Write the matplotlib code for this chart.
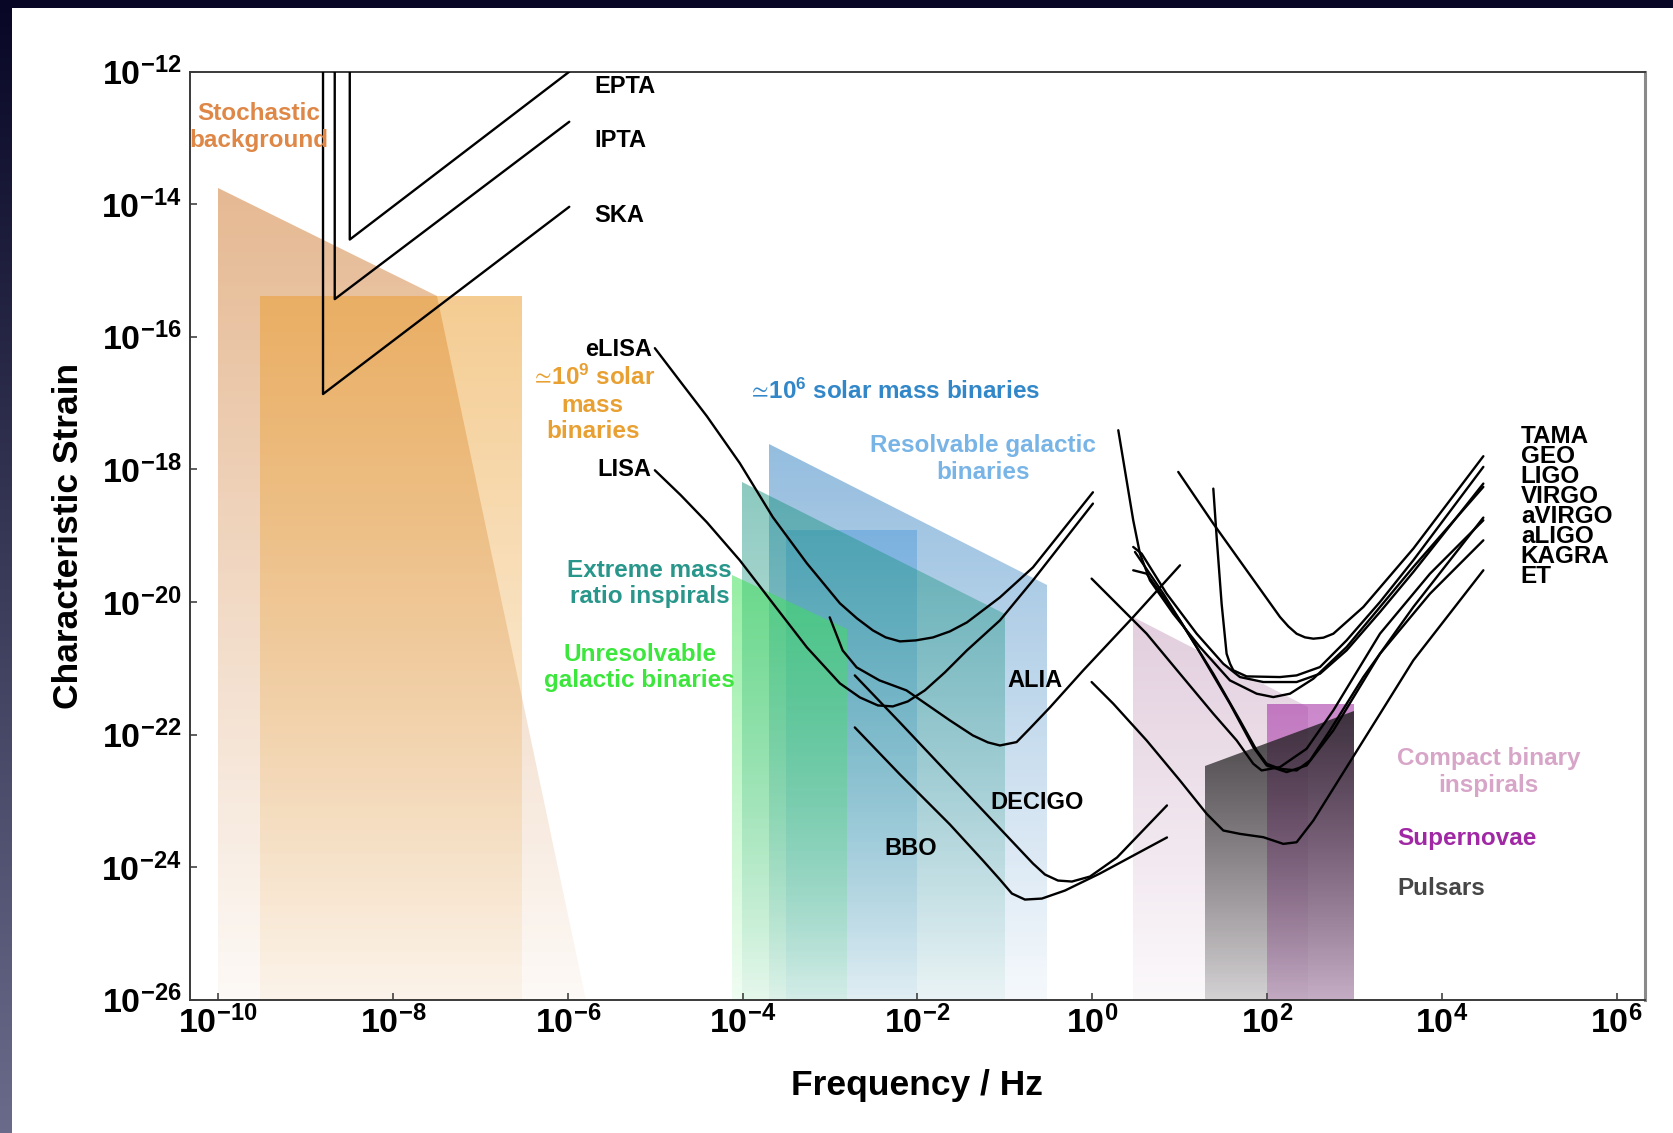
import numpy as np
import matplotlib
matplotlib.use("Agg")
import matplotlib.pyplot as plt
from matplotlib.patches import Polygon, Rectangle
from matplotlib.colors import LinearSegmentedColormap
from matplotlib.ticker import FixedLocator, FuncFormatter, NullLocator

plt.rcParams['font.family'] = ['Liberation Sans', 'DejaVu Sans']
plt.rcParams['mathtext.fontset'] = 'custom'
for key in ('rm', 'it', 'bf', 'sf'):
    plt.rcParams['mathtext.' + key] = 'Liberation Sans:bold'
plt.rcParams['mathtext.fallback'] = 'stixsans'

# ---------------------------------------------------------------------------
# Data: log10(frequency / Hz) and log10(characteristic strain)
# ---------------------------------------------------------------------------
LOGF_RANGE = (-10.32, 6.32)
LOGH_RANGE = (-26.0, -12.0)
XTICK_EXP = list(range(-10, 7, 2))
YTICK_EXP = list(range(-26, -11, 2))

# Source regions: frequencies of the top edge and the strain along it
stoch_f = [-10.0, -7.49, -5.79]
stoch_h = [-13.75, -15.39, -26.0]
smbh9_f = [-9.52, -6.52]
smbh9_h = [-15.39, -15.39]
resolv_f = [-3.70, -0.52]
resolv_h = [-17.61, -19.75]
smbh6_f = [-3.50, -2.00]
smbh6_h = [-18.92, -18.92]
emri_f = [-4.01, -1.00]
emri_h = [-18.19, -20.18]
unres_f = [-4.12, -2.81]
unres_h = [-19.60, -20.41]
cbc_f = [0.47, 2.47]
cbc_h = [-20.23, -21.59]
sn_f = [2.00, 3.00]
sn_h = [-21.54, -21.54]
psr_f = [1.29, 3.00]
psr_h = [-22.47, -21.64]

# Pulsar timing arrays
EPTA_f = [-8.493, -8.493, -5.982]
EPTA_h = [-12.0, -14.532, -12.0]
IPTA_f = [-8.665, -8.665, -5.982]
IPTA_h = [-12.0, -15.431, -12.755]
SKA_f = [-8.799, -8.799, -5.982]
SKA_h = [-12.0, -16.863, -14.038]

# Space-based detectors
eLISA_f = [-5.003, -4.706, -4.408, -4.031, -3.653, -3.264, -2.886, -2.691,
           -2.509, -2.363, -2.200, -2.020, -1.822, -1.628, -1.433, -1.056,
           -0.678, 0.008]
eLISA_h = [-16.171, -16.685, -17.198, -17.907, -18.722, -19.417, -20.021,
           -20.248, -20.429, -20.534, -20.595, -20.580, -20.535, -20.444,
           -20.308, -19.931, -19.478, -18.345]
LISA_f = [-5.003, -4.706, -4.408, -4.031, -3.653, -3.264, -2.886, -2.658,
          -2.452, -2.281, -2.110, -1.915, -1.686, -1.434, -1.056, -0.678, 0.008]
LISA_h = [-18.013, -18.390, -18.798, -19.372, -20.021, -20.685, -21.229,
          -21.440, -21.561, -21.576, -21.501, -21.334, -21.063, -20.731,
          -20.278, -19.674, -18.516]
ALIA_f = [-3.003, -2.855, -2.695, -2.434, -2.125, -1.628, -1.365, -1.193,
          -1.056, -0.865, -0.713, -0.484, -0.103, 0.469, 1.004]
ALIA_h = [-20.232, -20.731, -20.987, -21.183, -21.334, -21.787, -22.014,
          -22.119, -22.165, -22.114, -21.908, -21.591, -21.032, -20.227, -19.447]
DECIGO_f = [-2.716, -2.200, -1.628, -1.056, -0.678, -0.541, -0.392, -0.232,
            -0.026, 0.283, 0.855]
DECIGO_h = [-21.108, -21.818, -22.618, -23.418, -23.946, -24.112, -24.203,
            -24.218, -24.143, -23.856, -23.070]
BBO_f = [-2.716, -2.200, -1.628, -1.250, -1.056, -0.919, -0.770, -0.576,
         -0.312, 0.088, 0.855]
BBO_h = [-21.893, -22.602, -23.357, -23.901, -24.188, -24.399, -24.490,
         -24.475, -24.354, -24.097, -23.553]

# Ground-based detectors
TAMA_f = [0.984, 1.385, 1.766, 2.148, 2.243, 2.338, 2.434, 2.529, 2.644, 2.758,
          3.101, 3.673, 4.474]
TAMA_h = [-18.038, -18.818, -19.522, -20.227, -20.368, -20.479, -20.534,
          -20.554, -20.539, -20.479, -20.076, -19.195, -17.801]
GEO_f = [1.385, 1.423, 1.480, 1.537, 1.576, 1.614, 1.766, 2.148, 2.338, 2.605,
         2.910, 3.292, 3.673, 4.474]
GEO_h = [-18.290, -19.019, -20.026, -20.781, -20.931, -21.032, -21.123, -21.133,
         -21.108, -20.982, -20.579, -20.000, -19.371, -17.962]
LIGO_f = [0.469, 0.565, 0.851, 1.194, 1.499, 1.690, 1.957, 2.338, 2.605, 2.910,
          3.292, 3.673, 4.474]
LIGO_h = [-19.170, -19.271, -19.875, -20.478, -20.932, -21.133, -21.208, -21.208,
          -21.083, -20.730, -20.151, -19.548, -18.214]
VIRGO_f = [0.298, 0.393, 0.469, 0.546, 0.660, 0.927, 1.232, 1.575, 1.881, 2.071,
           2.262, 2.529, 2.910, 3.292, 3.673, 4.474]
VIRGO_h = [-17.409, -18.164, -18.768, -19.271, -19.674, -20.177, -20.680, -21.183,
           -21.384, -21.435, -21.384, -21.158, -20.680, -20.076, -19.472, -18.264]
aVIRGO_f = [0.469, 0.622, 1.003, 1.385, 1.690, 1.881, 1.995, 2.148, 2.338, 2.491,
            2.720, 3.101, 3.673, 4.474]
aVIRGO_h = [-19.522, -19.573, -20.277, -21.083, -21.787, -22.240, -22.441, -22.517,
            -22.542, -22.391, -21.938, -21.133, -20.076, -18.727]
aLIGO_f = [-0.007, 0.241, 0.622, 1.003, 1.385, 1.652, 1.842, 1.938, 2.148, 2.452,
           2.758, 3.292, 3.864, 4.474]
aLIGO_h = [-19.648, -19.975, -20.478, -21.082, -21.686, -22.089, -22.441, -22.542,
           -22.491, -22.215, -21.636, -20.478, -19.573, -18.768]
KAGRA_f = [0.489, 0.813, 1.194, 1.575, 1.842, 1.995, 2.224, 2.452, 2.758, 3.292,
           3.864, 4.474]
KAGRA_h = [-19.246, -19.875, -20.680, -21.535, -22.189, -22.466, -22.567, -22.466,
           -21.938, -20.781, -19.875, -19.070]
ET_f = [-0.007, 0.241, 0.622, 1.003, 1.309, 1.499, 1.690, 1.957, 2.186, 2.338,
        2.529, 2.910, 3.292, 3.673, 4.474]
ET_h = [-21.208, -21.535, -22.089, -22.693, -23.196, -23.448, -23.499, -23.549,
        -23.650, -23.625, -23.298, -22.493, -21.687, -20.881, -19.522]

ground_names = ['TAMA', 'GEO', 'LIGO', 'VIRGO', 'aVIRGO', 'aLIGO', 'KAGRA', 'ET']

# ---------------------------------------------------------------------------
fig = plt.figure(figsize=(16.73, 11.33), dpi=100)

# dark slide frame with white panel
bg = fig.add_axes([0, 0, 1, 1], zorder=-10)
bg.set_axis_off()
frame_cmap = LinearSegmentedColormap.from_list('frame', ['#080826', '#6a6a8a'])
bg.imshow(np.linspace(0, 1, 256)[:, None], cmap=frame_cmap, extent=[0, 1, 0, 1],
          aspect='auto', origin='upper')
bg.add_patch(Rectangle((0.007, 0.0), 1.0, 0.993, facecolor='white', edgecolor='none'))
bg.set_xlim(0, 1)
bg.set_ylim(0, 1)

ax = fig.add_axes([0.1136, 0.1177, 0.8695, 0.8190])
ax.set_xscale('log')
ax.set_yscale('log')
ax.set_xlim(10 ** LOGF_RANGE[0], 10 ** LOGF_RANGE[1])
ax.set_ylim(10 ** LOGH_RANGE[0], 10 ** LOGH_RANGE[1])


def shade(logf, logh, rgb, a_top, a_bot, z):
    """Fill the region under a top edge with a vertical fading gradient."""
    logf = list(logf)
    logh = list(logh)
    floor = LOGH_RANGE[0]
    verts_f = [logf[0]] + logf + [logf[-1]]
    verts_h = [floor] + logh + [floor]
    pts = np.column_stack([10.0 ** np.array(verts_f), 10.0 ** np.array(verts_h)])
    patch = Polygon(pts, closed=True, facecolor='none', edgecolor='none')
    ax.add_patch(patch)
    n = 240
    ly = np.linspace(floor, max(logh), n + 1)
    cmap = LinearSegmentedColormap.from_list('g', [(*rgb, a_bot), (*rgb, a_top)])
    mesh = ax.pcolormesh(10.0 ** np.array([min(logf), max(logf)]), 10.0 ** ly,
                         np.linspace(0, 1, n)[:, None], cmap=cmap, vmin=0, vmax=1,
                         shading='flat', antialiased=False, edgecolors='none',
                         zorder=z)
    mesh.set_clip_path(patch)


shade(stoch_f, stoch_h, (0.80, 0.45, 0.15), 0.50, 0.04, 1.0)
shade(smbh9_f, smbh9_h, (0.92, 0.62, 0.18), 0.52, 0.06, 1.1)
shade(resolv_f, resolv_h, (0.24, 0.53, 0.77), 0.55, 0.05, 1.2)
shade(smbh6_f, smbh6_h, (0.20, 0.55, 0.85), 0.35, 0.05, 1.3)
shade(emri_f, emri_h, (0.10, 0.58, 0.50), 0.50, 0.05, 1.4)
shade(unres_f, unres_h, (0.25, 0.88, 0.35), 0.55, 0.08, 1.5)
shade(cbc_f, cbc_h, (0.72, 0.52, 0.68), 0.40, 0.05, 1.6)
shade(sn_f, sn_h, (0.66, 0.22, 0.66), 0.60, 0.25, 1.7)
shade(psr_f, psr_h, (0.12, 0.12, 0.12), 0.82, 0.18, 1.8)

curves = [(EPTA_f, EPTA_h), (IPTA_f, IPTA_h), (SKA_f, SKA_h),
          (eLISA_f, eLISA_h), (LISA_f, LISA_h), (ALIA_f, ALIA_h),
          (DECIGO_f, DECIGO_h), (BBO_f, BBO_h),
          (TAMA_f, TAMA_h), (GEO_f, GEO_h), (LIGO_f, LIGO_h), (VIRGO_f, VIRGO_h),
          (aVIRGO_f, aVIRGO_h), (aLIGO_f, aLIGO_h), (KAGRA_f, KAGRA_h), (ET_f, ET_h)]
for lf, lh in curves:
    ax.plot(10.0 ** np.array(lf), 10.0 ** np.array(lh), color='black', lw=1.7,
            solid_joinstyle='round', solid_capstyle='round', zorder=5)


def label(lf, lh, s, color='black', ha='center', va='center', **kw):
    ax.text(10.0 ** lf, 10.0 ** lh, s, color=color, ha=ha, va=va,
            fontsize=kw.pop('fontsize', 17), fontweight='bold', zorder=6, **kw)


label(-5.696, -12.230, 'EPTA', ha='left')
label(-5.696, -13.031, 'IPTA', ha='left')
label(-5.696, -14.170, 'SKA', ha='left')
label(-5.040, -16.187, 'eLISA', ha='right')
label(-5.040, -17.998, 'LISA', ha='right')
label(-0.655, -21.183, 'ALIA')
label(-0.627, -23.021, 'DECIGO')
label(-2.077, -23.724, 'BBO')
label(4.902, -18.560, '\n'.join(ground_names), ha='left', linespacing=0.83,
      fontsize=17.5)

label(-9.534, -12.835, 'Stochastic\nbackground', color='#de8746', fontsize=17.5)
label(-5.713, -17.017, r'$\simeq\!10^{9}$ solar' + '\nmass\nbinaries',
      color='#e8a032', fontsize=17.5)
label(-2.269, -16.820, r'$\simeq\!10^{6}$ solar mass binaries', color='#3287c8',
      fontsize=17.5)
label(-1.250, -17.840, 'Resolvable galactic\nbinaries', color='#78b4e6',
      fontsize=17.5)
label(-5.063, -19.719, 'Extreme mass\nratio inspirals', color='#28968a',
      fontsize=17.5)
label(-5.178, -20.987, 'Unresolvable\ngalactic binaries', color='#3ce63c',
      fontsize=17.5)
label(3.486, -22.565, 'Compact binary\ninspirals', color='#d7a5c8', ha='left',
      multialignment='center', fontsize=17.5)
label(3.486, -23.562, 'Supernovae', color='#a028a5', ha='left', fontsize=17.5)
label(3.486, -24.324, 'Pulsars', color='#464646', ha='left', fontsize=17.5)

# axes styling
ax.xaxis.set_major_locator(FixedLocator(10.0 ** np.array(XTICK_EXP, dtype=float)))
ax.yaxis.set_major_locator(FixedLocator(10.0 ** np.array(YTICK_EXP, dtype=float)))
ax.xaxis.set_minor_locator(NullLocator())
ax.yaxis.set_minor_locator(NullLocator())
fmt = FuncFormatter(lambda v, p: r'$10^{%d}$' % int(round(np.log10(v))))
ax.xaxis.set_major_formatter(fmt)
ax.yaxis.set_major_formatter(fmt)
ax.tick_params(direction='in', length=5, width=1.1, color='#333333',
               labelsize=24.5, top=False, right=False)
ax.tick_params(axis='x', pad=4)
ax.tick_params(axis='y', pad=6)
for side in ('left', 'bottom', 'top'):
    ax.spines[side].set_color('#3a3a3a')
    ax.spines[side].set_linewidth(1.4)
ax.spines['right'].set_color('#8a8a8a')
ax.spines['right'].set_linewidth(2.2)

ax.set_xlabel('Frequency / Hz', fontsize=25.5, fontweight='bold')
ax.xaxis.label.set_va('baseline')
ax.xaxis.set_label_coords(0.5, -0.1032)
ax.set_ylabel('Characteristic Strain', fontsize=25.5, fontweight='bold')
ax.yaxis.label.set_va('baseline')
ax.yaxis.set_label_coords(-0.077, 0.5)

fig.savefig('out.png', dpi=100)
